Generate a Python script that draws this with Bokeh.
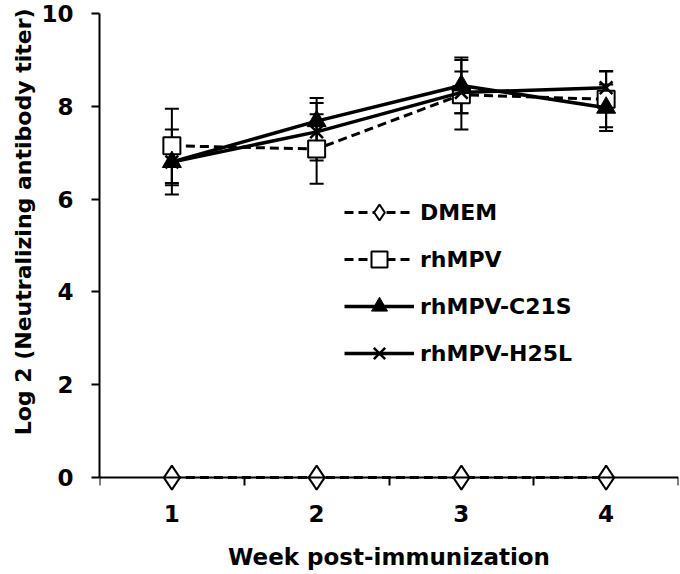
import math
from bokeh.plotting import figure
from bokeh.models import (FixedTicker, Whisker, ColumnDataSource, Legend,
                          LegendItem, TeeHead, LinearAxis)
from bokeh.embed import file_html
from bokeh.resources import INLINE

weeks = [1, 2, 3, 4]
week_labels = ["1", "2", "3", "4"]
dmem = [0, 0, 0, 0]
rhmpv = [7.15, 7.08, 8.25, 8.15]
rhmpv_err = [0.8, 0.75, 0.75, 0.6]
c21s = [6.8, 7.68, 8.45, 7.97]
c21s_err = [0.7, 0.5, 0.6, 0.5]
h25l = [6.8, 7.45, 8.3, 8.4]
h25l_err = [0.5, 0.62, 0.45, 0.36]
y_ticks = [0, 2, 4, 6, 8, 10]
x_boundaries = [0.5, 1.5, 2.5, 3.5, 4.5]

FONT = "DejaVu Sans"
NB = "\u00a0"

p = figure(width=680, height=574, x_range=(0.5, 4.5), y_range=(-0.30, 10),
           output_backend="svg", toolbar_location=None,
           min_border_left=99, min_border_right=2, min_border_top=13,
           min_border_bottom=83)
p.outline_line_color = None
p.xgrid.visible = False
p.ygrid.visible = False
p.background_fill_color = "white"
p.border_fill_color = "white"

# bottom axis: labels and title only
xa = p.xaxis[0]
xa.ticker = FixedTicker(ticks=weeks)
xa.major_label_overrides = {w: l for w, l in zip(weeks, week_labels)}
xa.axis_line_color = None
xa.major_tick_line_color = None
xa.minor_tick_line_color = None
xa.major_tick_out = 0
xa.major_tick_in = 0
xa.minor_tick_out = 0
xa.minor_tick_in = 0
xa.major_label_standoff = 13
xa.major_label_text_font = FONT
xa.major_label_text_font_style = "bold"
xa.major_label_text_font_size = "23px"
xa.major_label_text_color = "black"
xa.axis_label = "Week post-immunization"
xa.axis_label_text_font = FONT
xa.axis_label_text_font_style = "bold"
xa.axis_label_text_font_size = "23px"
xa.axis_label_text_color = "black"
xa.axis_label_standoff = 19

# axis line with category boundary ticks, fixed at y = 0
xb = LinearAxis(fixed_location=0,
                ticker=FixedTicker(ticks=[], minor_ticks=x_boundaries))
xb.major_tick_line_color = None
xb.major_tick_in = 0
xb.major_tick_out = 0
xb.minor_tick_in = 8
xb.minor_tick_out = 0
xb.minor_tick_line_color = "black"
xb.minor_tick_line_width = 2
xb.axis_line_width = 2
xb.axis_line_color = "black"
xb.major_label_standoff = 0
p.add_layout(xb, "above")

ya = p.yaxis[0]
ya.bounds = (0, 10)
ya.ticker = FixedTicker(ticks=y_ticks)
ya.major_tick_in = 0
ya.major_tick_out = 8
ya.major_tick_line_width = 2
ya.minor_tick_line_color = None
ya.axis_line_width = 2
ya.major_label_standoff = 18
ya.major_label_text_font = FONT
ya.major_label_text_font_style = "bold"
ya.major_label_text_font_size = "23px"
ya.major_label_text_color = "black"
ya.axis_label = NB * 8 + "Log 2 (Neutralizing antibody titer)"
ya.axis_label_text_font = FONT
ya.axis_label_text_font_style = "bold"
ya.axis_label_text_font_size = "22px"
ya.axis_label_text_color = "black"
ya.axis_label_standoff = 2

# error bars
for vals, errs in [(rhmpv, rhmpv_err), (c21s, c21s_err), (h25l, h25l_err)]:
    src = ColumnDataSource(dict(x=weeks,
                                lo=[v - e for v, e in zip(vals, errs)],
                                hi=[v + e for v, e in zip(vals, errs)]))
    w = Whisker(base="x", lower="lo", upper="hi", source=src,
                line_color="black", line_width=2,
                upper_head=TeeHead(size=14, line_width=2, line_color="black"),
                lower_head=TeeHead(size=14, line_width=2, line_color="black"))
    p.add_layout(w)

items = []
# DMEM
l1 = p.line(weeks, dmem, line_color="black", line_width=3, line_dash="9 5")
m1 = p.scatter(weeks, dmem, marker="diamond", size=24,
               line_color="black", line_width=2, fill_color="white")
items.append(LegendItem(label="DMEM", renderers=[l1, m1]))
# rhMPV
l2 = p.line(weeks, rhmpv, line_color="black", line_width=3, line_dash="9 5")
m2 = p.scatter(weeks, rhmpv, marker="square", size=17,
               line_color="black", line_width=2, fill_color="white")
items.append(LegendItem(label="rhMPV", renderers=[l2, m2]))
# C21S
l3 = p.line(weeks, c21s, line_color="black", line_width=3.5)
m3 = p.scatter(weeks, c21s, marker="triangle", size=19,
               line_color="black", line_width=1, fill_color="black")
items.append(LegendItem(label="rhMPV-C21S", renderers=[l3, m3]))
# H25L
l4 = p.line(weeks, h25l, line_color="black", line_width=3.5)
m4 = p.scatter(weeks, h25l, marker="x", size=18,
               line_color="black", line_width=2.5)
items.append(LegendItem(label="rhMPV-H25L", renderers=[l4, m4]))

legend = Legend(items=items, location=(245, 118))
legend.background_fill_alpha = 0
legend.border_line_color = None
legend.label_text_font = FONT
legend.label_text_font_style = "bold"
legend.label_text_font_size = "22px"
legend.label_text_color = "black"
legend.glyph_width = 70
legend.glyph_height = 40
legend.label_standoff = 6
legend.spacing = 7
legend.padding = 0
legend.margin = 0
p.add_layout(legend, "center")

open("out.html", "w").write(file_html(p, INLINE))
